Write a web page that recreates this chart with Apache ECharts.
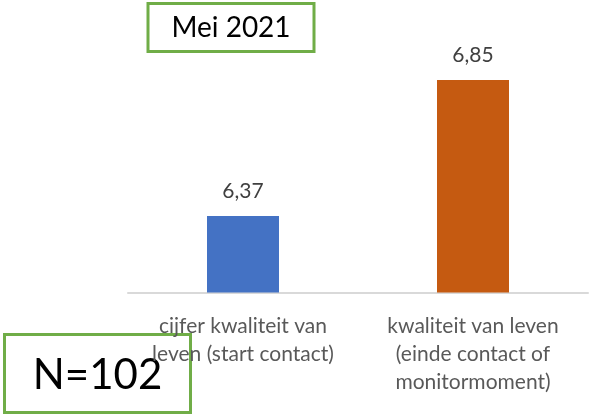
<!DOCTYPE html>
<html>
<head>
<meta charset="utf-8">
<script src="https://cdn.jsdelivr.net/npm/echarts@6/dist/echarts.min.js"></script>
<style>
  html, body { margin: 0; padding: 0; background: #fff; }
  #chart { width: 590px; height: 414px; }
</style>
</head>
<body>
<div id="chart"></div>
<script>
// data
const categories = [
  'cijfer kwaliteit van\nleven (start contact)',
  'kwaliteit van leven\n(einde contact of\nmonitormoment)'
];
const values = [6.37, 6.85];
const barColors = ['#4472C4', '#C55A11'];
const periodLabel = 'Mei 2021';
const sampleLabel = 'N=102';

const font = 'Lato, "Liberation Sans", sans-serif';
const chart = echarts.init(document.getElementById('chart'));

chart.setOption({
  animation: false,
  grid: { left: 128, right: 2, top: 37.5, bottom: 121.5 },
  xAxis: {
    type: 'category',
    data: categories,
    axisLine: { lineStyle: { color: '#D9D9D9', width: 2 } },
    axisTick: { show: false },
    axisLabel: {
      color: '#595959',
      fontFamily: font,
      fontSize: 21,
      lineHeight: 28,
      margin: 20,
      interval: 0
    }
  },
  yAxis: {
    type: 'value',
    min: 6.1,
    max: 7.0,
    show: false
  },
  series: [{
    type: 'bar',
    barWidth: 72,
    data: values.map((v, i) => ({ value: v, itemStyle: { color: barColors[i] } })),
    label: {
      show: true,
      position: 'top',
      distance: 14,
      color: '#404040',
      fontFamily: font,
      fontSize: 21,
      formatter: p => p.value.toFixed(2).replace('.', ',')
    }
  }],
  graphic: [
    {
      type: 'rect',
      shape: { x: 148, y: 3.5, width: 166, height: 48 },
      style: { fill: '#fff', stroke: '#70AD47', lineWidth: 3 }
    },
    {
      type: 'text',
      x: 231, y: 28,
      style: {
        text: periodLabel, fill: '#000', font: '28px ' + font,
        align: 'center', verticalAlign: 'middle'
      }
    },
    {
      type: 'rect',
      shape: { x: 4.5, y: 334.5, width: 186, height: 78 },
      style: { fill: '#fff', stroke: '#70AD47', lineWidth: 3 }
    },
    {
      type: 'text',
      x: 97.5, y: 375,
      style: {
        text: sampleLabel, fill: '#000', font: '42px ' + font,
        align: 'center', verticalAlign: 'middle'
      }
    }
  ]
});
</script>
</body>
</html>
